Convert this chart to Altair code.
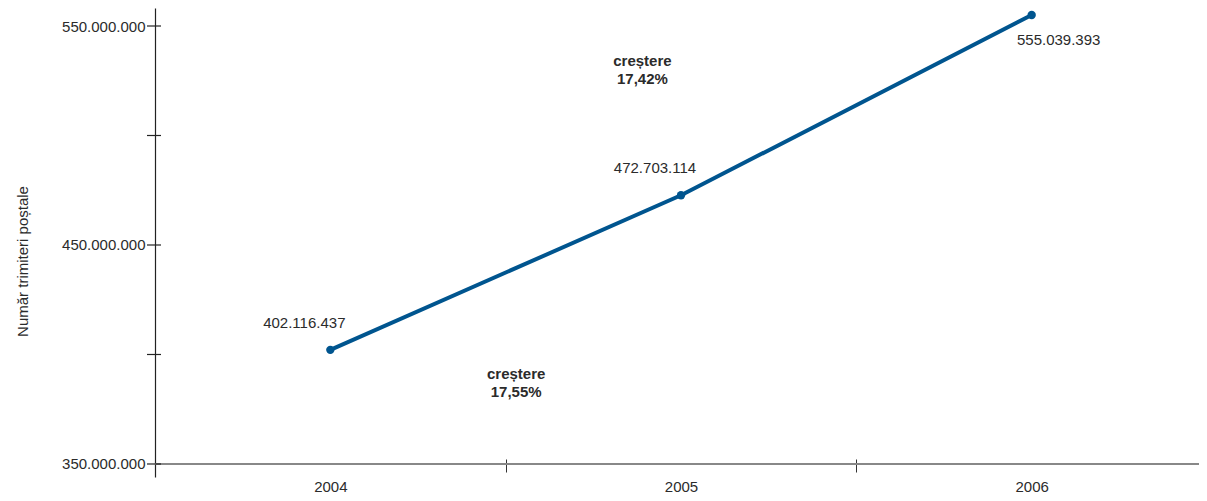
import altair as alt
import pandas as pd

# ---- data ----
years = ["2004", "2005", "2006"]
values = [402116437, 472703114, 555039393]
value_labels = ["402.116.437", "472.703.114", "555.039.393"]

y_ticks = [350000000, 400000000, 450000000, 500000000, 550000000]
y_tick_labels = ["350.000.000", "", "450.000.000", "", "550.000.000"]

growth_line1 = ["creștere", "creștere"]
growth_line2 = ["17,55%", "17,42%"]
growth_y = [391000000, 534000000]   # vertical placement of the annotations (axis units)

FONT = "Liberation Sans, Arial, Helvetica, sans-serif"
LINE_COLOR = "#00558f"
TEXT_COLOR = "#2b2b2b"
W, H = 1044, 469          # drawn view (kept inside the page)
X_RANGE = 1052            # x scale extends to the right page edge, as in the reference
Y_DOMAIN = [344060000, 558220000]

df = pd.DataFrame({"year": years, "value": values, "label": value_labels})
ticks_df = pd.DataFrame({"v": y_ticks, "lab": y_tick_labels})

label_expr = "{" + ",".join(f"'{v}':'{l}'" for v, l in zip(y_ticks, y_tick_labels)) + "}[datum.value] || ''"

x_scale = alt.Scale(domain=years, paddingInner=0, paddingOuter=0, range=[0, X_RANGE])
x_enc = alt.X(
    "year:N",
    sort=years,
    scale=x_scale,
    axis=alt.Axis(
        title=None, domain=False, tickBand="extent", ticks=True, tickSize=13,
        tickColor="#333333", tickWidth=1, offset=-18, labelAngle=0,
        labelFont=FONT, labelFontSize=15, labelColor=TEXT_COLOR, labelPadding=7,
        grid=False,
    ),
)
y_scale = alt.Scale(domain=Y_DOMAIN, nice=False, zero=False)
y_enc = alt.Y(
    "value:Q",
    scale=y_scale,
    axis=alt.Axis(
        title="Număr trimiteri poștale", values=y_ticks, labelExpr=label_expr,
        ticks=False, labelPadding=10, domainColor="#222222", domainWidth=1.2,
        labelFont=FONT, labelFontSize=15, labelColor=TEXT_COLOR, grid=False,
        titleFont=FONT, titleFontSize=15, titleFontWeight="normal", titleColor=TEXT_COLOR,
        titleX=-133, titleY=253, titleAngle=270, titleAlign="center", titleBaseline="middle",
    ),
)

base = alt.Chart(df)

line = base.mark_line(color=LINE_COLOR, strokeWidth=4).encode(x=x_enc, y=y_enc)
pts = base.mark_circle(color=LINE_COLOR, size=70, opacity=1).encode(x="year:N", y="value:Q")

lab_left = base.transform_filter("datum.year != '2006'").mark_text(
    font=FONT, fontSize=15, color=TEXT_COLOR, dx=-26, dy=-27
).encode(x="year:N", y="value:Q", text="label:N")
lab_right = base.transform_filter("datum.year == '2006'").mark_text(
    font=FONT, fontSize=15, color=TEXT_COLOR, dx=27, dy=25
).encode(x="year:N", y="value:Q", text="label:N")

# x axis line at 350.000.000 (gray)
xline = alt.Chart(pd.DataFrame({"v": [y_ticks[0]]})).mark_rule(color="#888888", strokeWidth=2).encode(
    y=alt.Y("v:Q", scale=y_scale), x=alt.value(0), x2=alt.value(X_RANGE)
)
# y ticks crossing the axis line
yticks = alt.Chart(ticks_df).mark_rule(color="#222222", strokeWidth=1.2).encode(
    y=alt.Y("v:Q", scale=y_scale), x=alt.value(-8), x2=alt.value(6)
)

ann_df = pd.DataFrame({"year": ["2005", "2005"], "t1": growth_line1, "t2": growth_line2,
                       "gy": growth_y})
ann1 = alt.Chart(ann_df.iloc[[0]]).transform_calculate(t="[datum.t1, datum.t2]").mark_text(
    font=FONT, fontSize=15, fontWeight="bold", color=TEXT_COLOR, lineHeight=18
).encode(x=alt.X("year:N", bandPosition=0.03), y=alt.Y("gy:Q", scale=y_scale), text="t:N")
ann2 = alt.Chart(ann_df.iloc[[1]]).transform_calculate(t="[datum.t1, datum.t2]").mark_text(
    font=FONT, fontSize=15, fontWeight="bold", color=TEXT_COLOR, lineHeight=18
).encode(x=alt.X("year:N", bandPosition=0.39), y=alt.Y("gy:Q", scale=y_scale), text="t:N")

chart = alt.layer(xline, yticks, line, pts, lab_left, lab_right, ann1, ann2).properties(
    width=W, height=H,
    background="white",
    autosize=alt.AutoSizeParams(type="none"),
    padding={"left": 147, "top": 0, "right": 0, "bottom": 16},
).configure_view(stroke="transparent", strokeWidth=0)

chart.save("out.html", embed_options={"renderer": "svg", "actions": False})
